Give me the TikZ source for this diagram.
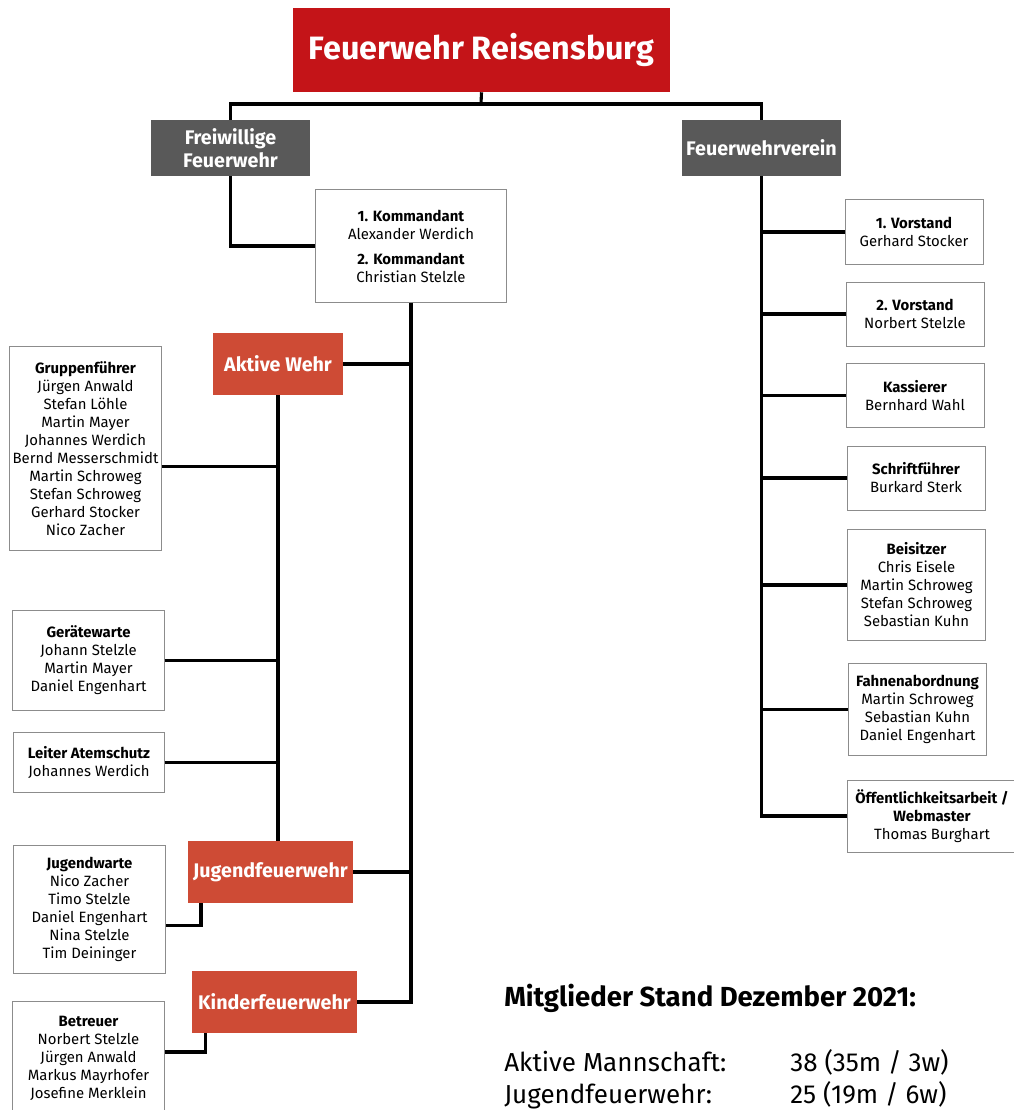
\documentclass[tikz,border=0pt]{standalone}
\usepackage{fontspec}
\setmainfont{Fira Sans}
\definecolor{fwred}{HTML}{C41418}
\definecolor{fwgrey}{HTML}{595959}
\definecolor{fworange}{HTML}{CE4B35}
\definecolor{boxline}{HTML}{8C8C8C}

\begin{document}
\begin{tikzpicture}[x=0.025cm,y=-0.025cm,
        head/.style={fill=fwgrey,text=white,align=center,inner sep=0pt,
            font=\fontsize{14}{16.5}\selectfont\bfseries,
            minimum width=3.98cm,minimum height=1.4cm},
        unit/.style={fill=fworange,text=white,inner sep=0pt,
            font=\fontsize{14}{16.5}\selectfont\bfseries,
            minimum width=4.12cm,minimum height=1.55cm},
        person/.style={draw=boxline,line width=0.7pt,fill=white,align=center,
            inner sep=0pt,font=\fontsize{10.6}{12.8}\selectfont,minimum width=3.78cm},
        board/.style={person,minimum width=3.45cm},
        link/.style={line width=2.2pt},
        stat/.style={anchor=base west,inner sep=0pt,font=\fontsize{18.5}{22}\selectfont}]
    \useasboundingbox (0,0) rectangle (1013,1110);

    \node[fill=fwred,text=white,font=\fontsize{23}{27}\selectfont\bfseries,
        minimum width=9.43cm,minimum height=2.1cm] (title) at (481.5,50) {Feuerwehr Reisensburg};
    \node[head] (ffw) at (230.5,148) {Freiwillige\\Feuerwehr};
    \node[head] (verein) at (761.5,148) {Feuerwehrverein};
    \coordinate (bus) at (481,104);

    \node[person,minimum width=4.75cm,minimum height=2.8cm] (kdo) at (411,246)
        {\textbf{1. Kommandant}\\Alexander Werdich\\[5pt]\textbf{2. Kommandant}\\Christian Stelzle};

    \node[unit,minimum width=3.25cm] (aktiv) at (278,364) {Aktive Wehr};
    \node[unit] (jugend) at (270.5,872) {Jugendfeuerwehr};
    \node[unit] (kinder) at (274.5,1002) {Kinderfeuerwehr};

    \node[person,minimum height=5.12cm] (grp) at (85.5,448.5)
        {\textbf{Gruppenführer}\\Jürgen Anwald\\Stefan Löhle\\Martin Mayer\\Johannes Werdich\\
         Bernd Messerschmidt\\Martin Schroweg\\Stefan Schroweg\\Gerhard Stocker\\Nico Zacher};
    \node[person,minimum height=2.52cm] (geraet) at (88.5,660.5)
        {\textbf{Gerätewarte}\\Johann Stelzle\\Martin Mayer\\Daniel Engenhart};
    \node[person,minimum width=3.75cm,minimum height=1.48cm] (atem) at (89,762.5)
        {\textbf{Leiter Atemschutz}\\Johannes Werdich};
    \node[person,minimum height=3.22cm] (jwarte) at (89.5,909.5)
        {\textbf{Jugendwarte}\\Nico Zacher\\Timo Stelzle\\Daniel Engenhart\\Nina Stelzle\\Tim Deininger};
    \node[person,minimum height=2.85cm] (betreuer) at (88.5,1058)
        {\textbf{Betreuer}\\Norbert Stelzle\\Jürgen Anwald\\Markus Mayrhofer\\Josefine Merklein};

    \node[board,minimum height=1.6cm] (vors1) at (914,232) {\textbf{1. Vorstand}\\Gerhard Stocker};
    \node[board,minimum height=1.6cm] (vors2) at (915,314) {\textbf{2. Vorstand}\\Norbert Stelzle};
    \node[board,minimum height=1.58cm] (kasse) at (915,395.5) {\textbf{Kassierer}\\Bernhard Wahl};
    \node[board,minimum height=1.6cm] (schrift) at (916,478) {\textbf{Schriftführer}\\Burkard Sterk};
    \node[board,minimum height=2.75cm] (beisitz) at (916.5,585)
        {\textbf{Beisitzer}\\Chris Eisele\\Martin Schroweg\\Stefan Schroweg\\Sebastian Kuhn};
    \node[board,minimum height=2.28cm] (fahne) at (917.5,709.5)
        {\textbf{Fahnenabordnung}\\Martin Schroweg\\Sebastian Kuhn\\Daniel Engenhart};
    \node[board,minimum width=4.2cm,minimum height=1.8cm] (presse) at (932,816)
        {\textbf{Öffentlichkeitsarbeit /}\\\textbf{Webmaster}\\Thomas Burghart};

    \draw[link] (title.south) -- (bus);
    \draw[link] (ffw.north) |- (bus) -| (verein.north);
    \draw[link] (ffw.south) |- (kdo.west);
    \draw[link] (kdo.south) |- (kinder.east);
    \draw[link] (aktiv.east) -- (aktiv.east -| kdo.south);
    \draw[link] (jugend.east) -- (jugend.east -| kdo.south);
    \draw[link] (aktiv.south) -- (aktiv.south |- jugend.north);
    \draw[link] ([yshift=-0.46cm]grp.east) -- ([yshift=-0.46cm]grp.east -| aktiv.south);
    \draw[link] (geraet.east) -- (geraet.east -| aktiv.south);
    \draw[link] (atem.east) -- (atem.east -| aktiv.south);
    \draw[link] ([xshift=0.33cm]jugend.south west) |- ([yshift=-0.41cm]jwarte.east);
    \draw[link] ([xshift=0.35cm]kinder.south west) |- ([yshift=0.15cm]betreuer.east);

    \draw[link] (verein.south) |- (presse.west);
    \foreach \n in {vors1,vors2,kasse,schrift,beisitz,fahne}
        \draw[link] (\n.west) -- (\n.west -| verein.south);

    \node[stat,font=\fontsize{19.6}{23}\selectfont\bfseries] (stand) at (504,1006) {Mitglieder Stand Dezember 2021:};
    \node[stat] (am) at (504,1071) {Aktive Mannschaft:};
    \node[stat] (amval) at (790,1071) {38 (35m / 3w)};
    \node[stat] (jf) at (504,1103) {Jugendfeuerwehr:};
    \node[stat] (jfval) at (790,1103) {25 (19m / 6w)};
\end{tikzpicture}
\end{document}
